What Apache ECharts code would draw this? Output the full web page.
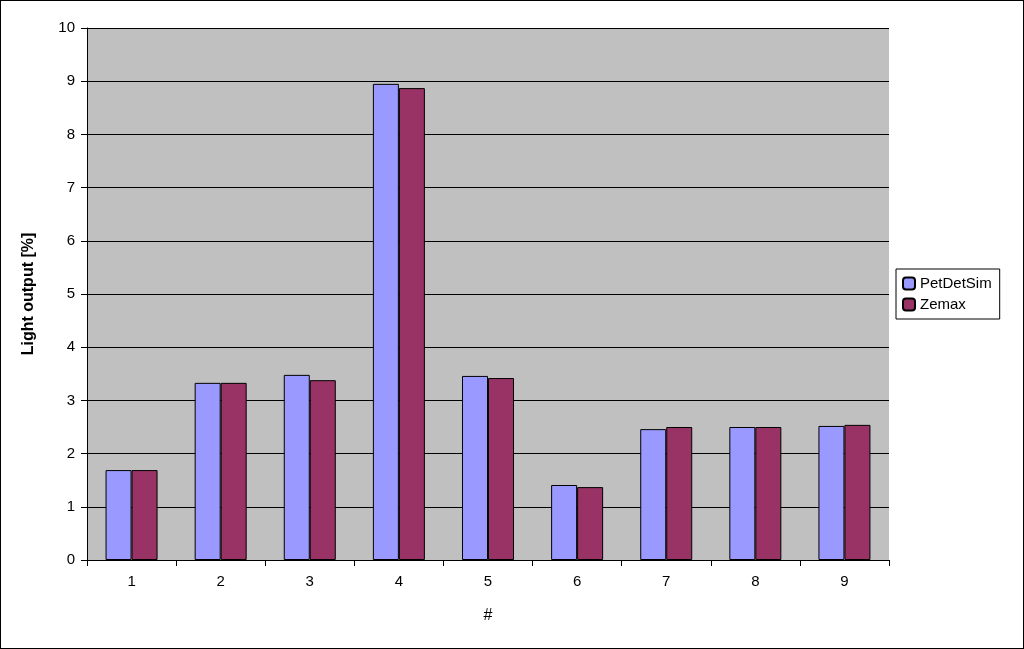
<!DOCTYPE html>
<html>
<head>
<meta charset="utf-8">
<script src="https://cdn.jsdelivr.net/npm/echarts@6/dist/echarts.min.js"></script>
<style>
html, body { margin: 0; padding: 0; background: #fff; }
#chart { width: 1022px; height: 647px; border: 1px solid #000; }
</style>
</head>
<body>
<div id="chart"></div>
<script>
const categories = ['1', '2', '3', '4', '5', '6', '7', '8', '9'];
const petDetSim = [1.69, 3.33, 3.48, 8.95, 3.46, 1.41, 2.46, 2.50, 2.52];
const zemax = [1.69, 3.33, 3.38, 8.87, 3.42, 1.37, 2.50, 2.50, 2.54];

var myChart = echarts.init(document.getElementById('chart'));
var font = 'Arial, "Liberation Sans", sans-serif';
var option = {
    animation: false,
    textStyle: { fontFamily: font },
    grid: { left: 86, top: 27, width: 802, height: 532 },
    legend: {
        orient: 'vertical',
        left: 895,
        top: 268,
        padding: [7, 8, 7, 6],
        itemGap: 6,
        itemWidth: 12,
        itemHeight: 12,
        borderColor: '#000',
        borderWidth: 1,
        backgroundColor: '#fff',
        textStyle: { fontSize: 15, color: '#000', fontFamily: font },
        data: ['PetDetSim', 'Zemax']
    },
    xAxis: {
        type: 'category',
        data: categories,
        name: '#',
        nameLocation: 'middle',
        nameGap: 48,
        nameTextStyle: { fontSize: 16, color: '#000' },
        axisLine: { lineStyle: { color: '#000' } },
        axisTick: { show: true, length: 6, lineStyle: { color: '#000' } },
        axisLabel: { fontSize: 15, color: '#000', margin: 14 }
    },
    yAxis: {
        type: 'value',
        min: 0,
        max: 10,
        interval: 1,
        name: 'Light output [%]',
        nameLocation: 'middle',
        nameGap: 50,
        nameTextStyle: { fontSize: 16, fontWeight: 'bold', color: '#000' },
        axisLine: { show: true, lineStyle: { color: '#000' } },
        axisTick: { show: true, length: 6, lineStyle: { color: '#000' } },
        axisLabel: { fontSize: 15, color: '#000', margin: 12 },
        splitLine: { lineStyle: { color: '#000', width: 1 } },
        splitArea: { show: true, areaStyle: { color: ['#c0c0c0'] } }
    },
    series: [
        {
            name: 'PetDetSim',
            type: 'bar',
            data: petDetSim,
            barWidth: 26,
            barGap: '0%',
            itemStyle: { color: '#9999ff', borderColor: '#000', borderWidth: 1 }
        },
        {
            name: 'Zemax',
            type: 'bar',
            data: zemax,
            barWidth: 26,
            itemStyle: { color: '#993366', borderColor: '#000', borderWidth: 1 }
        }
    ]
};
myChart.setOption(option);
window.onresize = function () { myChart.resize(); };
</script>
</body>
</html>
